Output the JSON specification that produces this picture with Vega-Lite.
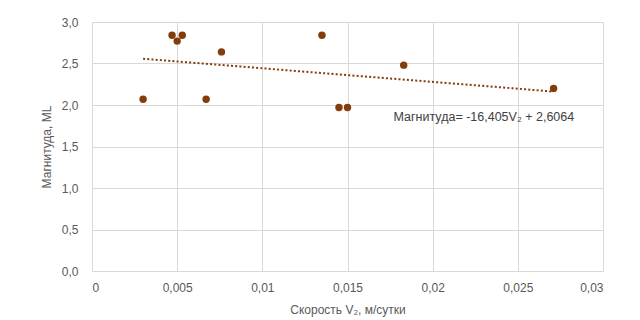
{
  "$schema": "https://vega.github.io/schema/vega-lite/v6.json",
  "width": 511,
  "height": 249,
  "autosize": {"type": "none"},
  "padding": {"left": 92, "top": 22, "right": 37, "bottom": 49},
  "background": "white",
  "config": {
    "font": "Liberation Sans",
    "view": {"stroke": null},
    "axis": {
      "labelFont": "Liberation Sans",
      "titleFont": "Liberation Sans",
      "labelFontSize": 12,
      "titleFontSize": 12,
      "labelColor": "#595959",
      "titleColor": "#595959",
      "titleFontWeight": "normal",
      "gridColor": "#d9d9d9",
      "gridWidth": 1,
      "ticks": false
    }
  },
  "datasets": {
    "obs": [
      {"v": 0.0030, "m": 2.07},
      {"v": 0.0047, "m": 2.84},
      {"v": 0.0050, "m": 2.77},
      {"v": 0.0053, "m": 2.84},
      {"v": 0.0067, "m": 2.07},
      {"v": 0.0076, "m": 2.64},
      {"v": 0.0135, "m": 2.84},
      {"v": 0.0145, "m": 1.97},
      {"v": 0.0150, "m": 1.97},
      {"v": 0.0183, "m": 2.48},
      {"v": 0.0271, "m": 2.20}
    ],
    "trend": [
      {"v": 0.0030, "m": 2.5572},
      {"v": 0.0271, "m": 2.1618}
    ],
    "eq": [
      {"v": 0.0177, "m": 1.86, "label": "Магнитуда= -16,405V₂ + 2,6064"}
    ]
  },
  "layer": [
    {
      "data": {"name": "trend"},
      "mark": {"type": "line", "color": "#843c0c", "strokeWidth": 2, "strokeDash": [2, 2.2]},
      "encoding": {
        "x": {
          "field": "v",
          "type": "quantitative",
          "scale": {"domain": [0, 0.03], "nice": false, "zero": true},
          "axis": {
            "title": "Скорость V₂, м/сутки",
            "values": [0, 0.005, 0.01, 0.015, 0.02, 0.025, 0.03],
            "format": ".3~f",
            "labelExpr": "replace(datum.label, '.', ',')",
            "grid": true,
            "domain": true,
            "domainColor": "#d9d9d9",
            "labelPadding": 11,
            "titlePadding": 11
          }
        },
        "y": {
          "field": "m",
          "type": "quantitative",
          "scale": {"domain": [0, 3], "nice": false},
          "axis": {
            "title": "Магнитуда, ML",
            "values": [0, 0.5, 1, 1.5, 2, 2.5, 3],
            "format": ".1f",
            "labelExpr": "replace(datum.label, '.', ',')",
            "grid": true,
            "domain": false,
            "labelPadding": 14,
            "titlePadding": 8
          }
        }
      }
    },
    {
      "data": {"name": "obs"},
      "mark": {"type": "circle", "color": "#843c0c", "opacity": 1, "size": 55},
      "encoding": {
        "x": {"field": "v", "type": "quantitative"},
        "y": {"field": "m", "type": "quantitative"}
      }
    },
    {
      "data": {"name": "eq"},
      "mark": {"type": "text", "align": "left", "baseline": "middle", "fontSize": 12.5, "color": "#404040", "font": "Liberation Sans"},
      "encoding": {
        "x": {"field": "v", "type": "quantitative"},
        "y": {"field": "m", "type": "quantitative"},
        "text": {"field": "label"}
      }
    }
  ]
}
